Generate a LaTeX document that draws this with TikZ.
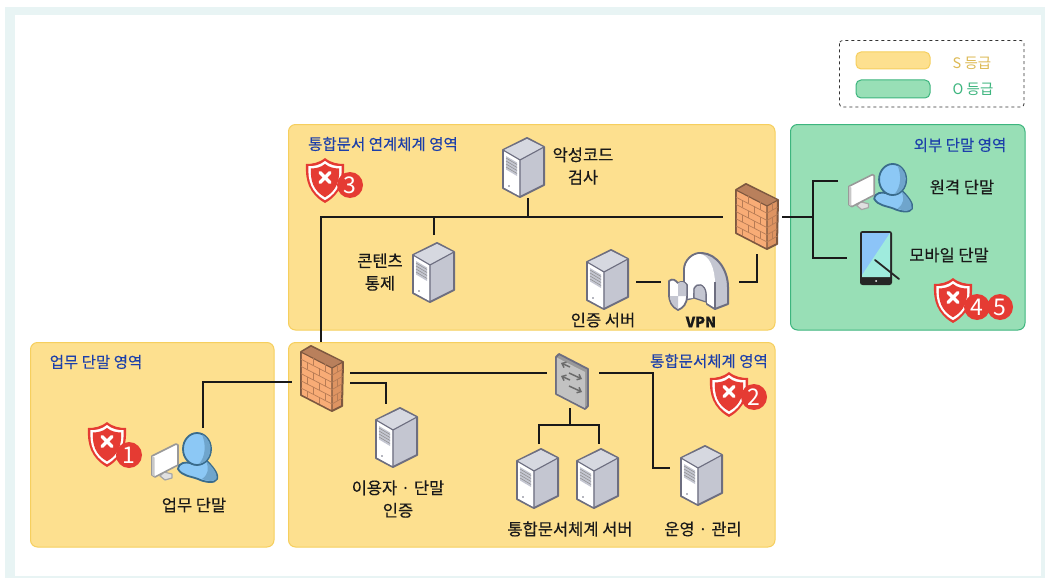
\documentclass[tikz,border=0pt]{standalone}
\usepackage{fontspec}
\setmainfont[FakeBold=0.25]{Noto Sans CJK KR}
\newfontfamily\plainfont{Noto Sans CJK KR}
\usetikzlibrary{arrows.meta}
\definecolor{zoneY}{HTML}{FDE08F}
\definecolor{zoneYb}{HTML}{F6CF5E}
\definecolor{zoneG}{HTML}{98DFB6}
\definecolor{zoneGb}{HTML}{3DB57E}
\definecolor{frameC}{HTML}{E8F4F4}
\definecolor{titleB}{HTML}{1C3FAA}
\definecolor{redS}{HTML}{E53B33}
\definecolor{srvL}{HTML}{6D6E80}
\definecolor{srvR}{HTML}{C4C6D1}
\definecolor{srvT}{HTML}{D6D8E0}
\definecolor{brick}{HTML}{F8AC76}
\definecolor{brickD}{HTML}{DE9462}
\definecolor{brickT}{HTML}{B9805C}
\definecolor{brickL}{HTML}{7D5840}
\definecolor{brickJ}{HTML}{B87C55}
\definecolor{userB}{HTML}{8CC8F5}
\definecolor{userD}{HTML}{6FA5CC}
\definecolor{userL}{HTML}{3A6C8C}
\definecolor{screenA}{HTML}{8CC4F8}
\definecolor{screenB}{HTML}{9FEBDD}
\tikzset{
  zone/.style={rounded corners=7pt,line width=1pt},
  zoneyellow/.style={zone,fill=zoneY,draw=zoneYb},
  zonegreen/.style={zone,fill=zoneG,draw=zoneGb},
  link/.style={draw=black!90,line width=2.1pt,line join=miter},
  iconbox/.style={inner sep=0pt,outer sep=0pt,draw=none},
  zonetitle/.style={inner sep=0pt,text=titleB,font=\fontsize{15.5}{17}\selectfont},
  lbl/.style={inner sep=0pt,text=black!90,align=center,font=\fontsize{16.5}{22.5}\selectfont},
  badge/.style={circle,fill=redS,text=white,inner sep=0pt,minimum size=26pt,font=\plainfont\fontsize{23}{23}\selectfont},
  server/.pic={
    \filldraw[draw=srvL,fill=srvR,line width=2pt,line join=round] (0,12)--(24,0)--(41,9)--(41,47)--(17,59)--(0,50)--cycle;
    \fill[srvT] (1,12)--(24,1)--(40,9)--(17,21)--cycle;
    \fill[white] (1,13)--(16.5,22)--(16.5,58)--(1,49.5)--cycle;
    \draw[srvL,line width=1.1pt,line join=round] (0,12)--(17,22)--(41,9) (17,22)--(17,59);
    \fill[srvR] (3,18)--(14,24.5)--(14,38)--(3,31.5)--cycle;
    \foreach \k in {0,3,6,9} {\draw[black!45,line width=.5pt] (3,20+\k)--(14,26.5+\k);}
    \fill[srvL] (6,48) circle (.8pt);
  },
  firewall/.pic={
    \filldraw[draw=brickL,fill=brickD,line width=2pt,line join=round] (0,6)--(10,0)--(42,16)--(41,60)--(31,65)--(0,49)--cycle;
    \fill[brickT] (1,6)--(10,1)--(41,16)--(31,21.5)--cycle;
    \fill[brick] (.8,7)--(30.5,22.5)--(30.5,64)--(.8,48.5)--cycle;
    \draw[brickL,line width=1.1pt] (0,6)--(31,22)--(42,16) (31,22)--(31,65);
    \foreach \k in {1,2,3,4,5} {\draw[brickJ,line width=.7pt] (0,6+7.2*\k)--(31,22+7.2*\k) (31,22+7.2*\k)--(41.5,16+7.2*\k);}
    \foreach \a/\b in {12/0,24/0,6/1,18/1,12/2,24/2,6/3,18/3,12/4,24/4,6/5,18/5} {
      \draw[brickJ,line width=.7pt] (\a,6+.516*\a+7.2*\b)--(\a,6+.516*\a+7.2*\b+7.2);}
    \foreach \b in {0,2,4} {\draw[brickJ,line width=.7pt] (36,19+7.2*\b)--(36,19+7.2*\b+7.2);}
  },
  switchbox/.pic={
    \filldraw[draw=srvL,fill=black!40,line width=1.8pt,line join=round] (0,3)--(3,0)--(32,15)--(32,52)--(29,55)--(0,40)--cycle;
    \fill[black!24] (.8,3.6)--(29,18)--(29,54)--(.8,39.4)--cycle;
    \begin{scope}[draw=black!58,line width=1.5pt,-{Straight Barb[length=3.5pt,width=6pt]}]
      \draw (14,13)--(5,9);
      \draw (13,19)--(26,25);
      \draw (14,26)--(5,22);
      \draw (13,32)--(26,38);
    \end{scope}
  },
  vpngate/.pic={
    \filldraw[draw=srvL,fill=srvR,line width=2pt,line join=round] (15,48)--(15,18) .. controls (15,8) and (24,0) .. (33,1) .. controls (48,2) and (59,18) .. (59,35)--(59,52)--(46,57)--(38,52)--(38,43)--(24,42)--(24,46)--cycle;
    \fill[white] (16,47)--(16,18) .. controls (16,9) and (24,2) .. (31,2) .. controls (40,3) and (46,16) .. (46,32)--(46,56)--(38,51)--(38,42) .. controls (37,32) and (28,28) .. (24,36)--(24,46)--cycle;
    \draw[srvL,line width=1.1pt] (46,56)--(46,30);
    \filldraw[draw=srvL,fill=srvR,line width=1.2pt] (25,37) .. controls (28,30) and (36,32) .. (37,41)--(37,50)--(25,46)--cycle;
    \filldraw[draw=srvL,fill=white,line width=1.8pt,line join=round] (0,29) .. controls (4,26) and (6,28) .. (9,31) .. controls (13,29) and (16,30) .. (18,33)--(18,44) .. controls (18,52) and (14,56) .. (9,58) .. controls (3,55) and (0,50) .. (0,42)--cycle;
    \fill[srvR] (9,31) .. controls (13,29) and (16,30) .. (17.3,33.4)--(17.3,44)--(9,44)--cycle (9,44)--(.8,44) .. controls (1,50) and (4,54) .. (9,57)--cycle;
  },
  usericon/.pic={
    \filldraw[draw=black!35,fill=black!12,line width=1.2pt,line join=round] (8,44)--(12,40)--(20,42)--(20,46)--(13,48)--cycle;
    \filldraw[draw=black!40,fill=white,line width=1.6pt,line join=round] (0,24)--(24,12)--(26,13)--(26,33)--(3,45)--(0,43)--cycle;
    \fill[black!22] (0,24)--(2.5,25.5)--(2.5,44.5)--(0,43)--cycle;
    \filldraw[draw=userL,fill=userB,line width=1.8pt,line join=round] (26,37) .. controls (27,30) and (34,30) .. (38,31) .. controls (44,34) and (50,32) .. (54,28) .. controls (60,34) and (67,42) .. (65,47) .. controls (63,52) and (52,50) .. (46,47) .. controls (38,44) and (30,44) .. (26,37) -- cycle;
    \fill[userD] (54,29) .. controls (60,34) and (66,42) .. (64.5,47) .. controls (62,50) and (55,49) .. (50,47) .. controls (57,42) and (57,36) .. (54,29) -- cycle;
    \filldraw[draw=userL,fill=userB,line width=1.8pt] (45,17) ellipse [x radius=14pt,y radius=16pt];
    \fill[userD] (50,2.5) .. controls (57,6) and (60,14) .. (58,21) .. controls (56,28) and (52,31) .. (47,32) .. controls (54,24) and (54,12) .. (50,2.5) -- cycle;
  },
  mobileicon/.pic={
    \fill[black!85,rounded corners=2.5pt] (0,0) rectangle (32,54);
    \fill[screenA] (2,2) rectangle (30,46);
    \fill[screenB] (30,2)--(30,46)--(2,46)--(2,44)--cycle;
    \fill[white] (16,50) circle (1pt);
    \draw[black!85,line width=1.8pt,line cap=round] (15,29)--(39,48);
  },
  shieldicon/.pic={
    \def\shp{(20,0) .. controls (26,5) and (33,6) .. (39,6) .. controls (40,22) and (36,36) .. (20,45) .. controls (4,36) and (0,22) .. (1,6) .. controls (7,6) and (14,5) .. (20,0) -- cycle}
    \fill[redS] \shp;
    \begin{scope}[shift={(2.6,3)},scale=.87] \fill[white] \shp; \end{scope}
    \begin{scope}[shift={(5.2,6)},scale=.74] \fill[redS] \shp; \end{scope}
    \draw[white,line width=3.2pt,line cap=round] (15,14.5)--(25,24.5) (25,14.5)--(15,24.5);
  }
}
\begin{document}
\begin{tikzpicture}[x=1pt,y=-1pt]
\useasboundingbox (0,0) rectangle (1045,578);
\fill[white] (0,0) rectangle (1045,578);
\fill[frameC] (5,7) rectangle (1045,578);
\fill[white] (15,15) rectangle (1041,576);
% zones
\draw[zoneyellow] (288.5,124.5) rectangle (775,330);
\draw[zonegreen] (790.5,124.5) rectangle (1025,330);
\draw[zoneyellow] (30.5,342.5) rectangle (274,547);
\draw[zoneyellow] (288.5,342.5) rectangle (775,547);
% legend
\draw[black!80,dashed,line width=.8pt,rounded corners=3pt] (839.5,40.5) rectangle (1024,107);
\draw[zoneyellow,rounded corners=5pt] (856,52) rectangle (930,69);
\draw[zonegreen,rounded corners=5pt] (856,80) rectangle (930,98);
\node[inner sep=0pt,text=zoneYb!90!black,font=\plainfont\fontsize{14.5}{16}\selectfont] (legS) at (972,63) {S 등급};
\node[inner sep=0pt,text=zoneGb,font=\plainfont\fontsize{14.5}{16}\selectfont] (legO) at (973,89.5) {O 등급};
% titles
\node[zonetitle] (tA) at (383,144) {통합문서 연계체계 영역};
\node[zonetitle] (tB) at (960,145) {외부 단말 영역};
\node[zonetitle] (tC) at (96,362) {업무 단말 영역};
\node[zonetitle] (tD) at (709,361) {통합문서체계 영역};
% icon holders
\node[iconbox,minimum width=58pt,minimum height=72pt] (fwB) at (321,378) {};
\node[iconbox,minimum width=59pt,minimum height=74pt] (fwA) at (752.5,217) {};
\node[iconbox,minimum width=70pt,minimum height=54pt] (user) at (185,455) {};
\node[iconbox,minimum width=42pt,minimum height=60pt] (mal) at (524,168) {};
\node[iconbox,minimum width=40pt,minimum height=67pt] (cont) at (433,268.5) {};
\node[iconbox,minimum width=49pt,minimum height=60pt] (auth) at (611.5,282) {};
\node[iconbox,minimum width=78pt,minimum height=60pt] (vpn) at (700,282) {};
\node[iconbox,minimum width=75pt,minimum height=50pt] (rem) at (875.5,188) {};
\node[iconbox,minimum width=50pt,minimum height=60pt] (mob) at (872,258) {};
\node[iconbox,minimum width=52pt,minimum height=54pt] (sw) at (573,381) {};
\node[iconbox,minimum width=42pt,minimum height=64pt] (uauth) at (397,436) {};
\node[iconbox,minimum width=40pt,minimum height=65pt] (srvA) at (539,476.5) {};
\node[iconbox,minimum width=40pt,minimum height=65pt] (srvB) at (599,476.5) {};
\node[iconbox,minimum width=56pt,minimum height=64pt] (ops) at (698,476) {};
\coordinate (ej) at (813,217);
\coordinate (sj) at (570,425);
\coordinate (oj) at (653,468);
% connectors
\draw[link] (fwB.north) |- (fwA.west);
\draw[link] ([xshift=4pt]mal.south) -- ([xshift=4pt]mal.south |- fwA.west);
\draw[link] ([xshift=1pt]cont.north) -- ([xshift=1pt]cont.north |- fwA.west);
\draw[link] ([xshift=4.5pt]fwA.south) |- (vpn.east);
\draw[link] (auth.east) -- (vpn.west);
\draw[link] (fwA.east) -- (ej);
\draw[link] ([yshift=7pt]rem.west) -| (ej) |- (mob.west);
\draw[link] ([xshift=18pt]user.north) |- ([yshift=-4pt]fwB.west);
\draw[link] ([yshift=5pt]fwB.east) -- ([yshift=8pt]sw.west);
\draw[link] ([yshift=-5pt]fwB.east) -| ([xshift=-11pt]uauth.north);
\draw[link] ([yshift=8pt]sw.east) -| (oj) |- ([yshift=8pt]ops.west);
\draw[link] ([xshift=-3pt]sw.south) -- (sj);
\draw[link] (srvA.north) |- (sj) -| (srvB.north);
% icons
\pic at (301,346) {firewall};
\pic at (736,184) {firewall};
\pic at (556,354) {switchbox};
\pic at (503,138) {server};
\pic at (413,243) {server};
\pic at (587,250) {server};
\pic at (376,408) {server};
\pic at (517,449) {server};
\pic at (577,449) {server};
\pic at (681,446) {server};
\pic at (669,252) {vpngate};
\pic at (152,432) {usericon};
\pic[scale=.97] at (849,163) {usericon};
\pic at (860,231) {mobileicon};
% shields
\pic at (87,422) {shieldicon};
\node[badge] (b1) at (129,455) {1};
\pic at (709,372) {shieldicon};
\node[badge] (b2) at (754,397) {2};
\pic at (305,158) {shieldicon};
\node[badge] (b3) at (350,185) {3};
\pic at (933,278) {shieldicon};
\node[badge] (b4) at (977,307) {4};
\node[badge] (b5) at (1000,307) {5};
% labels
\node[lbl] (l1) at (583,166) {악성코드\\검사};
\node[lbl] (l2) at (380,272) {콘텐츠\\통제};
\node[lbl] (l3) at (603,320) {인증 서버};
\node[lbl,font=\fontsize{14.5}{16}\bfseries\selectfont] (l4) at (701,322) {VPN};
\node[lbl] (l5) at (962,187) {원격 단말};
\node[lbl] (l6) at (949,255) {모바일 단말};
\node[lbl] (l7) at (194,505) {업무 단말};
\node[lbl] (l8) at (398,499) {이용자 · 단말\\인증};
\node[lbl] (l9) at (570,529) {통합문서체계 서버};
\node[lbl] (l10) at (703,529) {운영 · 관리};
\end{tikzpicture}
\end{document}
